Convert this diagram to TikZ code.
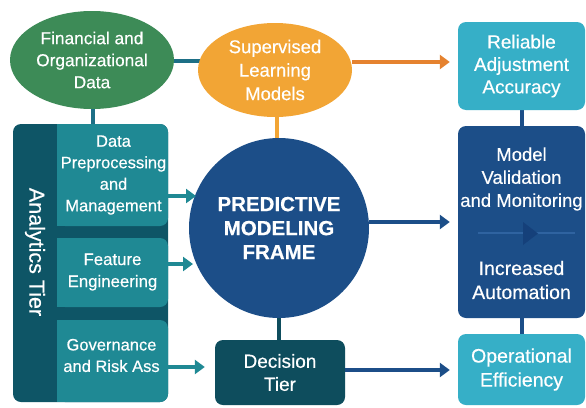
\documentclass[tikz,border=0pt]{standalone}
\usepackage{fontspec}
\setmainfont{Liberation Sans}[FakeBold=0.4]
\newfontfamily\heavyfont{Liberation Sans}[FakeBold=0.4,UprightFont=* Bold]
\usetikzlibrary{shapes.geometric,arrows.meta,backgrounds,calc}
\definecolor{leaf}{HTML}{3D8B57}
\definecolor{amber}{HTML}{F2A535}
\definecolor{amberdark}{HTML}{E5822F}
\definecolor{linkteal}{HTML}{1D6F86}
\definecolor{sky}{HTML}{36AFC7}
\definecolor{navy}{HTML}{1C4E88}
\definecolor{navydeep}{HTML}{15407A}
\definecolor{navyline}{HTML}{2F63A0}
\definecolor{deepteal}{HTML}{0E4D5D}
\definecolor{strip}{HTML}{0E5566}
\definecolor{midteal}{HTML}{1F8994}
\newcommand\fsz[2]{\fontsize{#1}{#2}\selectfont}
\begin{document}
\begin{tikzpicture}[x=1pt,y=-1pt,
  lbl/.style={text=white,font=\fsz{17}{22},align=center,inner sep=0pt},
  small/.style={lbl,font=\fsz{16.5}{21.5}},
  oval/.style={ellipse,draw=none,lbl},
  box/.style={rectangle,rounded corners=8pt,draw=none,lbl},
  card/.style={box,fill=midteal,minimum width=111pt},
  link/.style={line width=4pt},
  arr/.style={line width=4pt,-{Triangle[length=10pt,width=14pt]}}]
\useasboundingbox (0,0) rectangle (586,407);

% top row
\node[oval,fill=leaf,minimum width=164pt,minimum height=98pt,font=\fsz{17.3}{22}] (fin) at (92,60)
  {Financial and\\Organizational\\Data};
\node[oval,fill=amber,minimum width=154pt,minimum height=94pt,font=\fsz{18.5}{23.5}] (sup) at (275,70)
  {Supervised\\Learning\\Models};
\node[box,fill=sky,minimum width=127pt,minimum height=88pt,font=\fsz{19}{22.5}] (rel) at (521.5,66)
  {Reliable\\Adjustment\\Accuracy};

% right column
\node[box,fill=navy,minimum width=127pt,minimum height=192pt] (mv) at (521.5,222) {};
\node[lbl,font=\fsz{18.5}{23}] (mvtop) at (521.5,179) {Model\\Validation\\and Monitoring};
\node[lbl,font=\fsz{19.5}{24}] (mvbot) at (521.5,280) {Increased\\Automation};
\coordinate (mvl) at (478,233);
\coordinate (mvr) at (575,233);
\node[box,fill=sky,minimum width=127pt,minimum height=71pt,font=\fsz{19.5}{24}] (op) at (521.5,369.5)
  {Operational\\Efficiency};

% centre
\node[circle,fill=navy,minimum size=180pt,lbl,font=\heavyfont\fsz{20.5}{24}] (core) at (279,228)
  {PREDICTIVE\\MODELING\\FRAME};
\node[box,fill=deepteal,minimum width=130pt,minimum height=65pt,font=\fsz{19}{23}] (dec) at (280,372.5)
  {Decision\\Tier};

% analytics tier: dark strip with three cards
\node[box,fill=strip,minimum width=155pt,minimum height=278pt] (tier) at (90.5,263) {};
\node[lbl,rotate=-90,font=\fsz{21.5}{22}] (tiername) at (35,252) {Analytics Tier};
\node[card,minimum height=102pt] (dp) at (112.5,175) {};
\node[card,minimum height=69pt] (fe) at (112.5,272.5) {};
\node[card,minimum height=82pt] (gov) at (112.5,361) {};
% square off the left edges where the cards meet the strip
\fill[midteal] (dp.north west) rectangle ($(dp.south west)+(9,0)$);
\fill[midteal] (fe.north west) rectangle ($(fe.south west)+(9,0)$);
\fill[midteal] (gov.north west) rectangle ($(gov.south west)+(9,0)$);
\node[small] (dptext) at (113.5,175) {Data\\Preprocessing\\and\\Management};
\node[small,font=\fsz{16.8}{22}] (fetext) at (112.5,272) {Feature\\Engineering};
\node[small] (govtext) at (111.5,355.5) {Governance\\and Risk Ass};

\begin{scope}[on background layer]
  \fill[white] (0,0) rectangle (586,407);
  \draw[link,linkteal] (fin.east |- 0,61) -- (sup.center |- 0,61);
  \draw[link,amber] (sup.center -| 277,0) -- (core.center -| 277,0);
  \draw[link,linkteal] (fin.south -| 93,0) -- (tier.north -| 93,0);
  \draw[link,linkteal] (dp.center -| 93,0) -- (gov.center -| 93,0);
  \draw[link,deepteal] (core.center) -- (core.center |- dec.north);
  \draw[link,navy] (rel.center) -- (op.center);
\end{scope}

% arrows
\draw[arr,amberdark] (sup.east |- 0,62) -- ($(rel.west |- 0,62)+(-8,0)$);
\draw[arr,navy] (core.east |- 0,222) -- ($(mv.west |- 0,222)+(-8,0)$);
\draw[arr,navy] (dec.east |- 0,370) -- ($(op.west |- 0,370)+(-8,0)$);
\draw[arr,midteal] (dp.east |- 0,196) -- (196,196);
\draw[arr,midteal] (fe.east |- 0,264) -- (193,264);
\draw[arr,midteal] (gov.east |- 0,367) -- ($(dec.west |- 0,367)+(-10,0)$);

% inner step marker
\draw[line width=1.2pt,navyline] (mvl) -- (mvr);
\fill[navydeep] (523,222) -- (538,233.5) -- (523,245) -- cycle;
\end{tikzpicture}
\end{document}
